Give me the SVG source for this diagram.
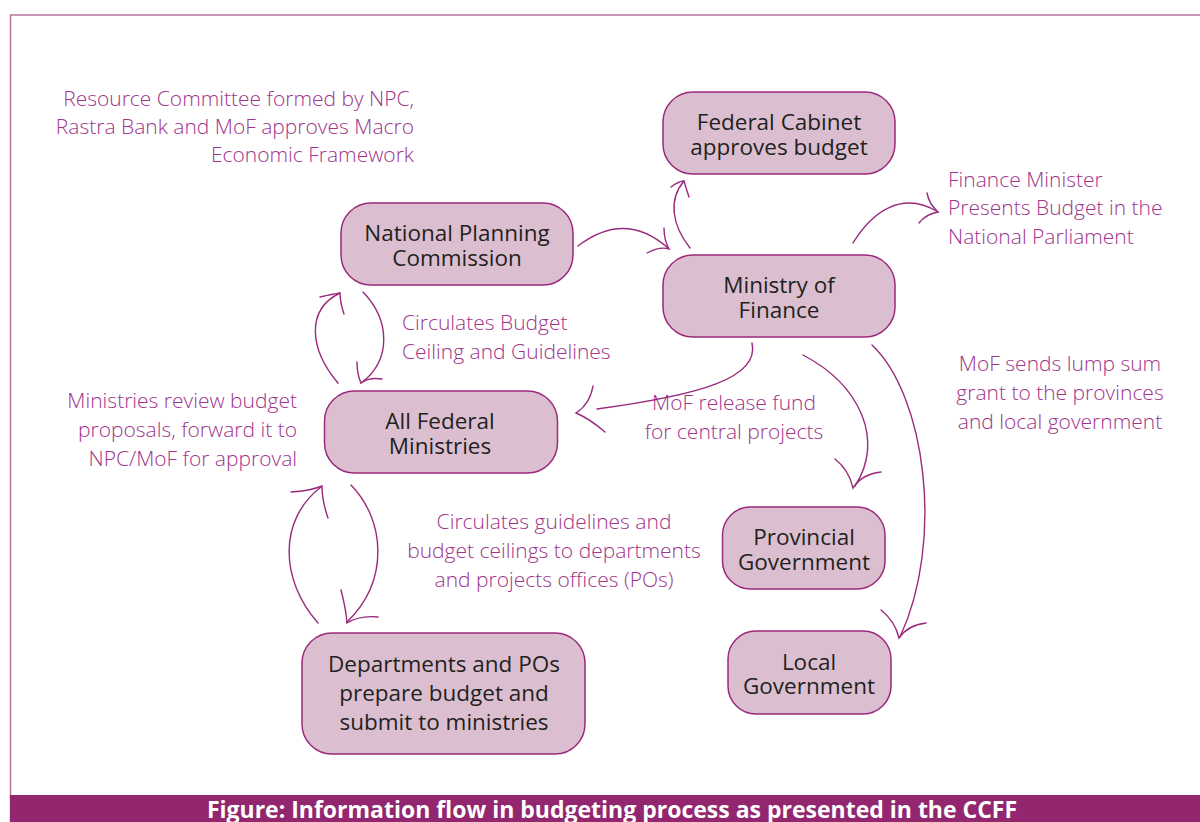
<svg xmlns="http://www.w3.org/2000/svg" width="1200" height="822" viewBox="0 0 1200 822">
  <style>
    .node rect { fill: #DBBFD0; stroke: #9A2A7C; stroke-width: 1.5; }
    .node text { font-family: "Open Sans", "Noto Sans", "Liberation Sans", sans-serif; font-size: 22.5px; font-weight: 500; fill: #231F20; text-anchor: middle; }
    .lbl { font-family: "Open Sans", "Noto Sans", "Liberation Sans", sans-serif; font-size: 21px; font-weight: 300; fill: #A0358A; }
    .wire path { fill: none; stroke: #9A2A7C; stroke-width: 1.4; stroke-linecap: round; }
    .frame { fill: none; stroke: #B5749F; stroke-width: 1.5; }
    .caption { font-family: "Open Sans", "Liberation Sans", sans-serif; font-size: 23px; font-weight: 700; fill: #FFFFFF; text-anchor: middle; }
  </style>

  <rect width="1200" height="822" fill="#FFFFFF"/>

  <!-- outer frame -->
  <path class="frame" d="M 10.5 822 L 10.5 15 L 1200 15"/>

  <!-- caption bar -->
  <rect x="10" y="795" width="1190" height="27" fill="#93276F"/>
  <text class="caption" x="612" y="818">Figure: Information flow in budgeting process as presented in the CCFF</text>

  <!-- free labels -->
  <g id="labels">
    <text class="lbl" text-anchor="end" x="414" y="106">Resource Committee formed by NPC,</text>
    <text class="lbl" text-anchor="end" x="414" y="134">Rastra Bank and MoF approves Macro</text>
    <text class="lbl" text-anchor="end" x="414" y="162">Economic Framework</text>

    <text class="lbl" x="948" y="187">Finance Minister</text>
    <text class="lbl" x="948" y="215">Presents Budget in the</text>
    <text class="lbl" x="948" y="244">National Parliament</text>

    <text class="lbl" x="402" y="330">Circulates Budget</text>
    <text class="lbl" x="402" y="359">Ceiling and Guidelines</text>

    <text class="lbl" text-anchor="middle" x="1060" y="371">MoF sends lump sum</text>
    <text class="lbl" text-anchor="middle" x="1060" y="400">grant to the provinces</text>
    <text class="lbl" text-anchor="middle" x="1060" y="429">and local government</text>

    <text class="lbl" text-anchor="end" x="297" y="408">Ministries review budget</text>
    <text class="lbl" text-anchor="end" x="297" y="437">proposals, forward it to</text>
    <text class="lbl" text-anchor="end" x="297" y="466">NPC/MoF for approval</text>

    <text class="lbl" text-anchor="middle" x="734" y="410">MoF release fund</text>
    <text class="lbl" text-anchor="middle" x="734" y="439">for central projects</text>

    <text class="lbl" text-anchor="middle" x="554" y="529">Circulates guidelines and</text>
    <text class="lbl" text-anchor="middle" x="554" y="558">budget ceilings to departments</text>
    <text class="lbl" text-anchor="middle" x="554" y="587">and projects offices (POs)</text>
  </g>

  <!-- connectors: shafts and open curved arrowheads -->
  <g id="connectors" class="wire">
    <!-- NPC to MoF -->
    <path d="M 578 246 Q 625 210 668 248"/>
    <path d="M 664 228 Q 664 240 669 249 Q 660 246 647 253"/>
    <!-- MoF to Federal Cabinet -->
    <path d="M 690 248 C 672 225 668 200 684 181"/>
    <path d="M 671 187 Q 679 181 684 181 Q 686 188 689 197"/>
    <!-- MoF to Finance Minister -->
    <path d="M 853 243 C 872 212 902 190 938 212"/>
    <path d="M 927 193 Q 929 204 938 212 Q 926 214 919 223"/>
    <!-- AFM to NPC -->
    <path d="M 338 383 C 310 350 305 310 340 293"/>
    <path d="M 320 297 Q 333 294 340 293 Q 340 302 344 314"/>
    <!-- NPC to AFM -->
    <path d="M 363 292 C 390 320 392 360 361 383"/>
    <path d="M 357 362 Q 357 374 361 383 Q 369 377 382 379"/>
    <!-- MoF release fund to AFM -->
    <path d="M 752 343 C 760 378 700 395 597 409"/>
    <path d="M 593 386 Q 590 404 576 413 Q 590 419 605 432"/>
    <!-- MoF to Provincial Government -->
    <path d="M 803 355 C 860 385 885 440 855 486"/>
    <path d="M 835 459 Q 849 470 853 488 Q 862 474 881 472"/>
    <!-- MoF to Local Government -->
    <path d="M 872 345 C 925 395 945 540 900 637"/>
    <path d="M 881 610 Q 895 621 899 638 Q 908 625 926 623"/>
    <!-- Departments to AFM -->
    <path d="M 318 623 C 280 580 278 520 321 487"/>
    <path d="M 291 492 Q 310 491 322 486 Q 322 501 328 518"/>
    <!-- AFM to Departments -->
    <path d="M 351 485 C 385 520 390 580 347 622"/>
    <path d="M 341 590 Q 346 609 347 623 Q 360 615 378 617"/>
  </g>

  <!-- nodes -->
  <g id="federal-cabinet" class="node">
    <rect x="663" y="92" width="232" height="82" rx="30"/>
    <text x="779" y="130">Federal Cabinet</text>
    <text x="779" y="155">approves budget</text>
  </g>
  <g id="npc" class="node">
    <rect x="341" y="203" width="232" height="82" rx="30"/>
    <text x="457" y="241">National Planning</text>
    <text x="457" y="266">Commission</text>
  </g>
  <g id="mof" class="node">
    <rect x="663" y="255" width="232" height="82" rx="30"/>
    <text x="779" y="293">Ministry of</text>
    <text x="779" y="318">Finance</text>
  </g>
  <g id="all-federal-ministries" class="node">
    <rect x="324.5" y="391" width="233" height="82" rx="30"/>
    <text x="440" y="429">All Federal</text>
    <text x="440" y="454">Ministries</text>
  </g>
  <g id="provincial-government" class="node">
    <rect x="722.5" y="507" width="162.5" height="82" rx="28"/>
    <text x="804" y="545">Provincial</text>
    <text x="804" y="570">Government</text>
  </g>
  <g id="local-government" class="node">
    <rect x="728" y="631" width="163" height="83" rx="28"/>
    <text x="809" y="670">Local</text>
    <text x="809" y="694">Government</text>
  </g>
  <g id="departments" class="node">
    <rect x="302" y="633" width="283" height="121" rx="30"/>
    <text x="444" y="672">Departments and POs</text>
    <text x="444" y="701">prepare budget and</text>
    <text x="444" y="730">submit to ministries</text>
  </g>
</svg>
